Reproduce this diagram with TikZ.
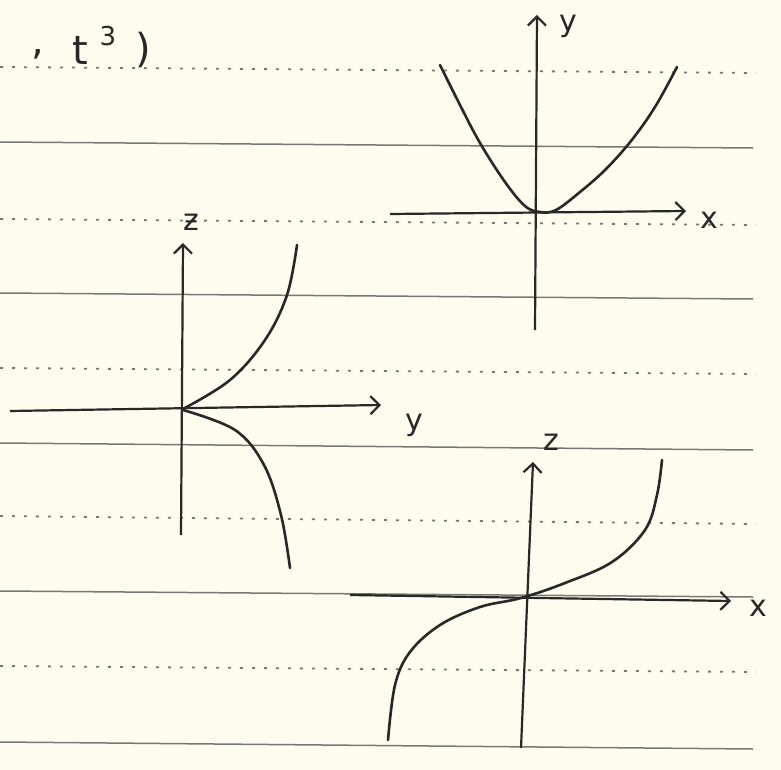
\documentclass[tikz,border=0pt]{standalone}
\usepackage{fontspec}
\usetikzlibrary{arrows.meta}
\newfontfamily\djv{DejaVu Sans}
\definecolor{paper}{RGB}{253,252,239}
\definecolor{rulecol}{RGB}{120,120,115}
\definecolor{ink}{RGB}{40,40,40}
\tikzset{
  ruled/.style={rulecol, line width=1.5pt},
  dottedrule/.style={rulecol, line width=1.8pt, dash pattern=on 3pt off 9pt},
  axisline/.style={ink, line width=2.2pt, -{Straight Barb[length=9pt,width=18pt,line width=2.2pt]}},
  curveline/.style={ink, line width=2.6pt, line cap=round},
  lbl/.style={ink, font=\djv\fontsize{30}{30}\selectfont, inner sep=0pt},
  handtext/.style={ink, font=\djv\fontsize{40}{40}\selectfont, inner sep=0pt}
}
\begin{document}
\begin{tikzpicture}[x=1pt,y=-1pt]
\fill[paper] (0,0) rectangle (781,770);
\useasboundingbox (0,0) rectangle (781,770);
% ruled lines
\foreach \ya/\yb in {142/148, 293/299, 443/450, 591/597, 742/749}
  \draw[ruled] (0,\ya) -- (753,\yb);
\foreach \ya/\yb in {67/73, 219/225, 368/374, 516/524, 666/672}
  \draw[dottedrule] (0,\ya) -- (756,\yb);
% header text
\node[handtext] (comma) at (38,54) {,};
\node[handtext] (t) at (80,50) {t};
\node[ink, font=\djv\fontsize{26}{26}\selectfont, inner sep=0pt] (cube) at (108,36) {3};
\node[handtext] (paren) at (143,50) {)};
% plot 1: xy-plane
\coordinate (p1b) at (535,330);
\coordinate (p1t) at (537,15);
\coordinate (p1l) at (390,214);
\coordinate (p1r) at (686,211);
\draw[axisline] (p1b) -- (p1t);
\draw[axisline] (p1l) -- (p1r);
\node[lbl] (ly1) at (568,26) {y};
\node[lbl] (lx1) at (709,220) {x};
\draw[curveline] plot[smooth, tension=0.6] coordinates {(440,65) (460,105) (480,143) (505,182) (525,206) (540,212) (556,210) (580,192) (605,170) (631,141) (655,107) (677,67)};
% plot 2: yz-plane
\coordinate (p2b) at (181,535);
\coordinate (p2t) at (183,243);
\coordinate (p2l) at (10,411);
\coordinate (p2r) at (381,405);
\draw[axisline] (p2b) -- (p2t);
\draw[axisline] (p2l) -- (p2r);
\node[lbl] (lz2) at (191,222) {ƶ};
\node[lbl] (ly2) at (414,425) {y};
\draw[curveline] plot[smooth, tension=0.6] coordinates {(183,409) (230,380) (265,340) (287,295) (297,245)};
\draw[curveline] plot[smooth, tension=0.6] coordinates {(183,410) (235,430) (264,465) (281,515) (290,568)};
% plot 3: xz-plane
\coordinate (p3b) at (521,748);
\coordinate (p3t) at (533,462);
\coordinate (p3l) at (350,595);
\coordinate (p3r) at (731,601);
\draw[axisline] (p3b) -- (p3t);
\draw[axisline] (p3l) -- (p3r);
\node[lbl] (lz3) at (551,442) {z};
\node[lbl] (lx3) at (758,608) {x};
\draw[curveline] plot[smooth, tension=0.6] coordinates {(388,740) (395,685) (410,652) (440,625) (480,607) (521,598) (565,583) (612,562) (645,530) (657,495) (662,460)};
\end{tikzpicture}
\end{document}
